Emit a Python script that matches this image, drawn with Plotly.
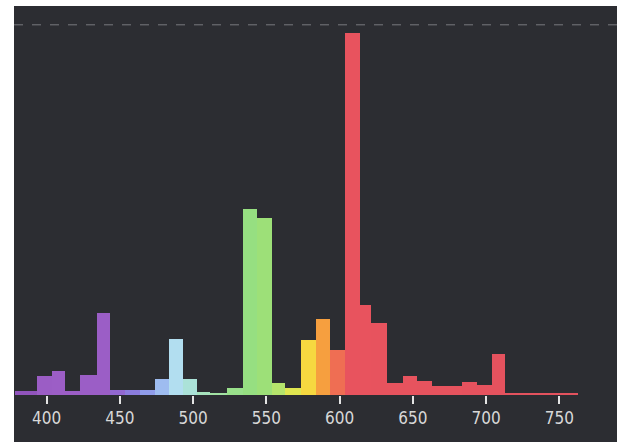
import plotly.graph_objects as go

# ---- data (wavelength bins in nm, relative intensity, peak = 100) ----
bin_edges_nm = [378.4, 393.2, 403.4, 412.5, 422.7, 434.5, 443.2, 453.5, 463.7, 473.9,
                483.7, 492.8, 502.4, 511.5, 522.9, 534.2, 543.4, 553.6, 562.7, 573.4,
                583.9, 593.4, 603.7, 613.9, 621.2, 632.1, 643.0, 652.6, 662.8, 673.0,
                683.3, 693.6, 703.8, 712.9, 725.0, 737.0, 750.0, 762.7]
intensity = [1.1, 5.3, 6.6, 1.1, 5.5, 22.8, 1.4, 1.4, 1.4,
             4.3, 15.4, 4.3, 0.9, 0.55, 1.8, 51.4, 48.9, 3.2, 1.8,
             15.2, 20.9, 12.4, 100.0, 24.9, 20.0, 3.2, 5.3, 4.0, 2.5,
             2.5, 3.5, 2.8, 11.3, 0.45, 0.4, 0.35, 0.35]
tick_vals = [400, 450, 500, 550, 600, 650, 700, 750]
tick_text = ["400", "450", "500", "550", "600", "650", "700", "750"]
top_guide_level = 102.3

# ---- styling ----
spectrum_stops_nm = [380, 400, 440, 455, 470, 480, 490, 500, 515, 530, 545, 558, 568, 578, 588, 598, 608, 760]
spectrum_colors = ["#8c50b8", "#9c5ec6", "#9b5ec6", "#8a70d8", "#90a0ec", "#a0c0f0", "#b6e4f0",
                   "#a8e2d0", "#a4e2a8", "#98e088", "#94df7c", "#b4e46c", "#e0e650", "#f6dc40",
                   "#f6a23e", "#ef7052", "#e8535e", "#e3525e"]
cmin, cmax = spectrum_stops_nm[0], spectrum_stops_nm[-1]
colorscale = [[(w - cmin) / (cmax - cmin), c] for w, c in zip(spectrum_stops_nm, spectrum_colors)]

centers = [(a + b) / 2 for a, b in zip(bin_edges_nm[:-1], bin_edges_nm[1:])]
widths = [b - a for a, b in zip(bin_edges_nm[:-1], bin_edges_nm[1:])]

bg = "#2c2d32"

fig = go.Figure(go.Bar(
    x=centers, y=intensity, width=widths,
    marker=dict(color=centers, colorscale=colorscale, cmin=cmin, cmax=cmax,
                line=dict(width=0)),
    hoverinfo="x+y", showlegend=False,
))

W, H = 623, 442
ml, mr, mt, mb = 14, 6, 6, 47
pw, ph = W - ml - mr, H - mt - mb

fig.update_layout(
    width=W, height=H,
    margin=dict(l=ml, r=mr, t=mt, b=mb),
    paper_bgcolor=bg, plot_bgcolor=bg,
    bargap=0,
    xaxis=dict(range=[377.7, 789.4], tickvals=tick_vals, ticktext=tick_text,
               ticks="outside", ticklen=8, tickwidth=2, tickcolor="#e4e4e4",
               showgrid=False, zeroline=False, showline=False,
               tickfont=dict(family="Liberation Sans Narrow, DejaVu Sans Condensed, Roboto",
                             size=17, color="#d8d8d8")),
    yaxis=dict(range=[0, 107.5], visible=False),
    shapes=[
        dict(type="line", xref="paper", yref="y", x0=0, x1=1,
             y0=top_guide_level, y1=top_guide_level,
             line=dict(color="rgba(215,215,220,0.45)", width=1, dash="dash")),
        dict(type="rect", xref="paper", yref="paper", x0=-ml / pw - 0.05, x1=0,
             y0=-0.5, y1=1.5, fillcolor="white", line=dict(width=0), layer="below"),
        dict(type="rect", xref="paper", yref="paper", x0=1, x1=1.05,
             y0=-0.5, y1=1.5, fillcolor="white", line=dict(width=0), layer="below"),
        dict(type="rect", xref="paper", yref="paper", x0=-0.1, x1=1.1,
             y0=1, y1=1 + mt / ph + 0.05, fillcolor="white", line=dict(width=0), layer="below"),
    ],
)

fig.write_html("out.html", config={"displayModeBar": False},
               post_script="document.body.style.margin='0';document.body.style.overflow='hidden';")
